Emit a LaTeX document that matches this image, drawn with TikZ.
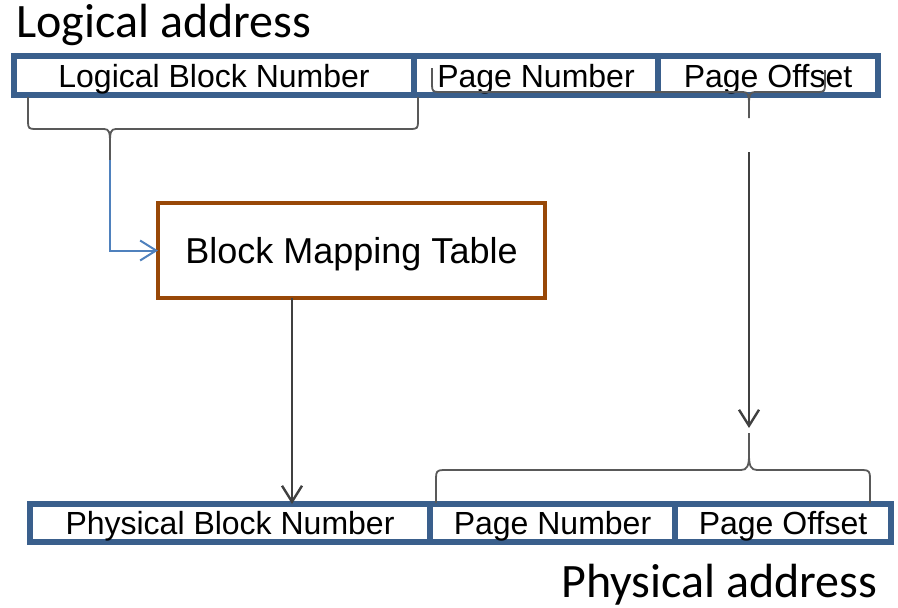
\documentclass[tikz,border=0pt]{standalone}
\usepackage{fontspec}
\setmainfont{Liberation Sans}
\newfontfamily\titlefont{Carlito}
\usetikzlibrary{positioning,arrows.meta}

\definecolor{barblue}{HTML}{3A5F8C}
\definecolor{tablebrown}{HTML}{984807}
\definecolor{linkblue}{HTML}{4F81BD}
\definecolor{arrowgray}{HTML}{404040}
\definecolor{bracegray}{HTML}{595959}

\tikzset{
    cell/.style={draw=barblue, line width=2.6pt, outer sep=0pt, inner sep=0pt, text depth=0pt,
        minimum height=19.5pt, font=\fontsize{16}{18}\selectfont},
    table/.style={draw=tablebrown, line width=2.4pt, outer sep=0pt, text depth=0pt,
        minimum width=193.5pt, minimum height=47.5pt, font=\fontsize{18}{20}\selectfont},
    caption/.style={inner sep=0pt, font=\titlefont\fontsize{24}{26}\selectfont},
    bracket/.style={draw=bracegray, line width=0.9pt},
    addrarrow/.style={draw=arrowgray, line width=1.2pt, -{Straight Barb[length=8pt,width=10pt]}},
    maplink/.style={draw=linkblue, line width=1pt, -{Straight Barb[length=8pt,width=10pt]}}
}

\begin{document}
\begin{tikzpicture}[x=0.5pt,y=-0.5pt]
    \useasboundingbox (0,0) rectangle (898,607);

    % logical address
    \node[caption, anchor=base west] (logtitle) at (16,37) {Logical address};
    \node[cell, minimum width=200pt, anchor=north west] (lbn) at (14,56) {Logical Block Number};
    \node[cell, minimum width=122pt, right=0pt of lbn] (lpn) {Page Number};
    \node[cell, minimum width=110pt, right=0pt of lpn] (lpo) {Page Offset};

    % mapping table
    \node[table] (bmt) at (351.5,250.5) {Block Mapping Table};

    % physical address
    \node[cell, minimum width=200pt, minimum height=19pt, anchor=north west] (pbn) at (30,504) {Physical Block Number};
    \node[cell, minimum width=122.5pt, minimum height=19pt, right=0pt of pbn] (ppn) {Page Number};
    \node[cell, minimum width=108pt, minimum height=19pt, right=0pt of ppn] (ppo) {Page Offset};
    \node[caption, anchor=base west] (phystitle) at (561,597) {Physical address};

    % braces
    \coordinate (ltip) at (110,160);
    \coordinate (otip) at (749,118);
    \coordinate (ptip) at (749,433);
    \draw[bracket] (28,97) -- (28,122) .. controls (28,128) and (29,129) .. (35,129)
        -- (104,129) .. controls (109,129) and (110,132) .. (110,142) -- (ltip);
    \draw[bracket] (110,142) .. controls (110,132) and (111,129) .. (116,129)
        -- (411,129) .. controls (417,129) and (418,128) .. (418,122) -- (418,97);
    \draw[bracket] (432,68) -- (432,85) .. controls (432,91) and (433,92) .. (439,92)
        -- (743,92) .. controls (748,92) and (749,95) .. (749,104) -- (otip);
    \draw[bracket] (749,104) .. controls (749,95) and (750,92) .. (755,92)
        -- (818,92) .. controls (824,92) and (825,91) .. (825,85) -- (825,70);
    \draw[bracket] (436,503) -- (436,478) .. controls (436,472) and (437,470) .. (443,470)
        -- (741,470) .. controls (747,470) and (749,466) .. (749,455) -- (ptip);
    \draw[bracket] (749,455) .. controls (749,466) and (751,470) .. (757,470)
        -- (863,470) .. controls (869,470) and (870,472) .. (870,478) -- (870,503);

    % connectors
    \coordinate (drop) at (292,0);
    \coordinate (ostart) at (749,152);
    \coordinate (oend) at (749,428);
    \draw[maplink] (ltip) |- (bmt.west);
    \draw[addrarrow] (bmt.south -| drop) -- (pbn.north -| drop);
    \draw[addrarrow] (ostart) -- (oend);
\end{tikzpicture}
\end{document}
